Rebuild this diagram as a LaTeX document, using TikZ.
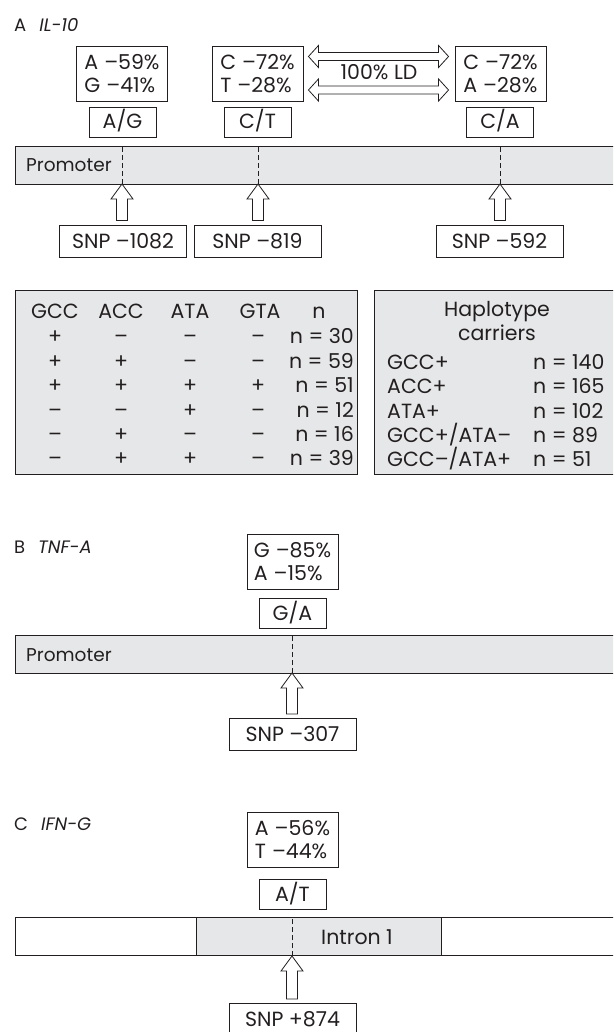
\documentclass[tikz,border=0pt]{standalone}
\usepackage{fontspec}
\setmainfont{Poppins}
\usepackage{xcolor}
\usepackage{tikz}
\usetikzlibrary{calc}
\definecolor{ink}{HTML}{231F20}
\definecolor{shade}{HTML}{E6E7E8}
\tikzset{
  base/.style={draw=ink, line width=0.9pt},
  cut/.style={draw=ink, dash pattern=on 5pt off 3pt, line width=0.8pt},
  gene/.style={base, fill=shade, minimum height=38pt, inner sep=0pt},
  hollow/.style={draw=ink, fill=white, line width=0.8pt, line join=miter},
  cell/.style={font=\fontsize{20.5}{23}\selectfont, text=ink, inner sep=0pt,
    text height=14pt, text depth=0pt},
  region/.style={cell, font=\fontsize{18.5}{23}\selectfont, anchor=west},
  head/.style={font=\fontsize{18}{20}\selectfont, text=ink, inner sep=0pt, anchor=west},
  freq/.style={base, font=\fontsize{20.5}{23}\selectfont, text=ink, align=left,
    minimum width=91pt, minimum height=55pt, inner sep=0pt},
  allele/.style={base, cell, minimum width=67pt, minimum height=30pt},
  snp/.style={base, cell, minimum width=127pt, minimum height=32pt}
}
% hollow block arrow from a box up to a point on the gene bar
\newcommand{\snparrow}[2]{%
  \draw[hollow] let \p1=(#1.north), \p2=(#2) in
    ({\x2-5.5pt},{\y1+4pt}) -- ({\x2-5.5pt},{\y2-15pt}) -- ({\x2-11pt},{\y2-15pt})
    -- (\x2,\y2) -- ({\x2+11pt},{\y2-15pt}) -- ({\x2+5.5pt},{\y2-15pt})
    -- ({\x2+5.5pt},{\y1+4pt}) -- cycle;}
% hollow double arrow between two boxes, #3 = vertical offset
\newcommand{\ldarrow}[3]{%
  \draw[hollow] let \p1=(#1.east), \p2=(#2.west), \p3=($(#1.east)+(0,#3)$) in
    ({\x1+5pt},\y3) -- ({\x1+15pt},{\y3+11pt}) -- ({\x1+15pt},{\y3+4pt})
    -- ({\x2-16pt},{\y3+4pt}) -- ({\x2-16pt},{\y3+11pt}) -- ({\x2-6pt},\y3)
    -- ({\x2-16pt},{\y3-11pt}) -- ({\x2-16pt},{\y3-4pt}) -- ({\x1+15pt},{\y3-4pt})
    -- ({\x1+15pt},{\y3-11pt}) -- cycle;}

\begin{document}
\begin{tikzpicture}[x=1pt, y=-1pt]
  \clip (0,0) rectangle (613,1032);

  % A: IL-10
  \node[head] (hA) at (14,25) {A\hspace{13pt}\textit{IL-10}};
  \node[freq] (fA1) at (122,73.5) {A\hspace{6pt}–59\%\\G\hspace{6pt}–41\%};
  \node[freq] (fA2) at (257.5,73.5) {C\hspace{6pt}–72\%\\T\hspace{6pt}–28\%};
  \node[freq] (fA3) at (500.5,73.5) {C\hspace{6pt}–72\%\\A\hspace{6pt}–28\%};
  \node[cell] (ld) at (379,73) {100\% LD};
  \ldarrow{fA2}{fA3}{-17}
  \ldarrow{fA2}{fA3}{16.5}
  \node[allele] (aA1) at (122.5,122) {A/G};
  \node[allele] (aA2) at (257.5,122) {C/T};
  \node[allele] (aA3) at (500,122) {C/A};

  \node[gene, anchor=north west, minimum width=640pt] (barA) at (15,146) {};
  \node[region] (pA) at (26,165) {Promoter};
  \coordinate (dA1) at (122,184);
  \coordinate (dA2) at (258,184);
  \coordinate (dA3) at (500,184);
  \foreach \d in {dA1,dA2,dA3}
    \draw[cut] (\d) -- (\d |- barA.north);

  \node[snp] (sA1) at (123,241) {SNP –1082};
  \node[snp] (sA2) at (257.5,241) {SNP –819};
  \node[snp] (sA3) at (499.5,241) {SNP –592};
  \snparrow{sA1}{dA1}
  \snparrow{sA2}{dA2}
  \snparrow{sA3}{dA3}

  % haplotype tables
  \node[base, fill=shade, anchor=north west, minimum width=342pt, minimum height=184pt] (tab) at (15,290) {};
  \node[base, fill=shade, anchor=north west, minimum width=280pt, minimum height=184pt] (car) at (374,290) {};
  \node[cell] (cGCC) at (55,311) {GCC};
  \node[cell] (cACC) at (121,311) {ACC};
  \node[cell] (cATA) at (190,311) {ATA};
  \node[cell] (cGTA) at (260,311) {GTA};
  \node[cell] (cn) at (319,311) {n};
  \foreach \a/\b/\c/\d/\n [count=\i] in {+/–/–/–/30, +/+/–/–/59, +/+/+/+/51,
      –/–/+/–/12, –/+/–/–/16, –/+/+/–/39}{
    \pgfmathsetmacro{\ry}{312.5+24.4*\i}
    \node[cell] (r\i a) at (55,\ry) {\a};
    \node[cell] (r\i b) at (121,\ry) {\b};
    \node[cell] (r\i c) at (190,\ry) {\c};
    \node[cell] (r\i d) at (258,\ry) {\d};
    \node[cell, anchor=east] (r\i n) at (354,\ry) {n = \n};
  }
  \node[cell] (hap) at (497,309) {Haplotype};
  \node[cell] (carr) at (497,333) {carriers};
  \foreach \h/\n [count=\i] in {GCC+/140, ACC+/165, ATA+/102,
      GCC+\slash ATA–/89, GCC–\slash ATA+/51}{
    \pgfmathsetmacro{\ry}{337.9+24.4*\i}
    \node[cell, anchor=west] (k\i) at (387,\ry) {\h};
    \node[cell, anchor=west] (v\i) at (533,\ry) {n = \n};
  }

  % B: TNF-A
  \node[head] (hB) at (14,547) {B\hspace{13pt}\textit{TNF-A}};
  \node[freq] (fB) at (292.5,561.5) {G\hspace{6pt}–85\%\\A\hspace{6pt}–15\%};
  \node[allele] (aB) at (292.5,613) {G/A};
  \node[gene, anchor=north west, minimum width=640pt] (barB) at (15,635) {};
  \node[region] (pB) at (26,654) {Promoter};
  \coordinate (dB) at (292,673);
  \draw[cut] (dB) -- (dB |- barB.north);
  \node[snp] (sB) at (292.5,734.5) {SNP –307};
  \snparrow{sB}{dB}

  % C: IFN-G
  \node[head] (hC) at (14,824) {C\hspace{13pt}\textit{IFN-G}};
  \node[freq] (fC) at (292.5,840) {A\hspace{6pt}–56\%\\T\hspace{6pt}–44\%};
  \node[allele] (aC) at (292.5,894) {A/T};
  \node[gene, fill=white, anchor=north west, minimum width=640pt] (barC) at (15,917) {};
  \node[gene, anchor=north west, minimum width=245pt] (intr) at (196,917) {};
  \node[cell] (iC) at (357,937) {Intron 1};
  \coordinate (dC) at (292,956);
  \draw[cut] (dC) -- (dC |- barC.north);
  \node[snp] (sC) at (292.5,1019.5) {SNP +874};
  \snparrow{sC}{dC}
\end{tikzpicture}
\end{document}
